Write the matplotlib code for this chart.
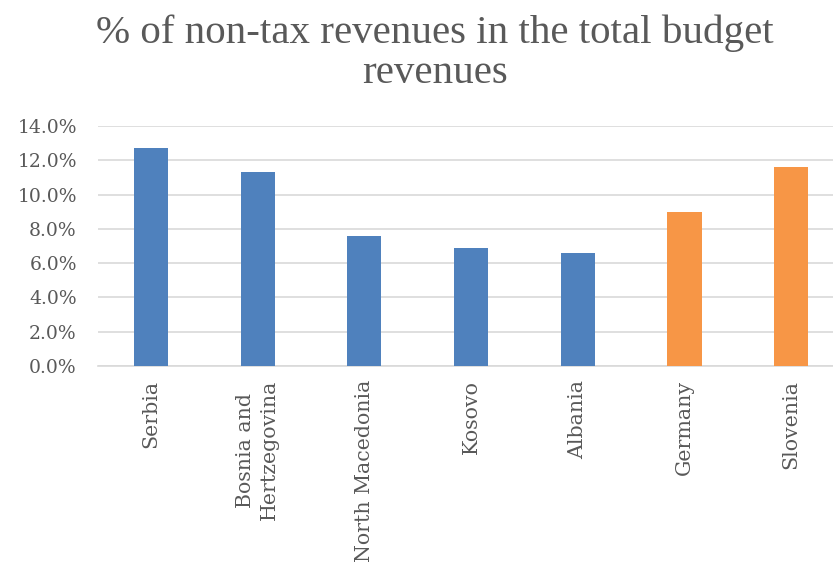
import matplotlib
matplotlib.use("Agg")
import matplotlib.pyplot as plt
from matplotlib.ticker import FuncFormatter

countries = ["Serbia", "Bosnia and\nHertzegovina", "North Macedonia", "Kosovo",
             "Albania", "Germany", "Slovenia"]
shares = [12.7, 11.3, 7.6, 6.9, 6.6, 9.0, 11.6]
groups = ["region", "region", "region", "region", "region", "eu", "eu"]
palette = {"region": "#4F81BD", "eu": "#F79646"}

plt.rcParams["font.family"] = ["DejaVu Serif"]
text_color = "#595959"

fig = plt.figure(figsize=(8.33, 5.63), dpi=100)
ax = fig.add_axes([97.6 / 833, 1 - 366 / 563, 747 / 833, 240 / 563])

x = range(len(countries))
ax.bar(x, shares, width=0.32, color=[palette[g] for g in groups], zorder=3)

ax.set_xlim(-0.5, len(countries) - 0.5)
ax.set_ylim(0, 14)
ax.set_yticks([0, 2, 4, 6, 8, 10, 12, 14])
ax.yaxis.set_major_formatter(FuncFormatter(lambda v, p: f"{v:.1f}%"))
ax.grid(axis="y", color="#D9D9D9", linewidth=1.2, zorder=0)
for s in ["top", "right", "left"]:
    ax.spines[s].set_visible(False)
ax.spines["bottom"].set_color("#D9D9D9")
ax.spines["bottom"].set_linewidth(1.2)
ax.tick_params(axis="both", length=0, colors=text_color)
ax.tick_params(axis="y", pad=15, labelsize=13.5)
ax.tick_params(axis="x", pad=10, labelsize=14.8)
ax.set_xticks(list(x))
ax.set_xticklabels(countries, rotation=90, va="top", ha="center",
                   multialignment="center", linespacing=1.35)

fig.text(0.522, 1 - 14 / 563, "% of non-tax revenues in the total budget\nrevenues",
         ha="center", va="top", fontsize=29.5, color=text_color, linespacing=1.12,
         family="Liberation Serif")

fig.savefig("out.png", dpi=100, facecolor="white")
